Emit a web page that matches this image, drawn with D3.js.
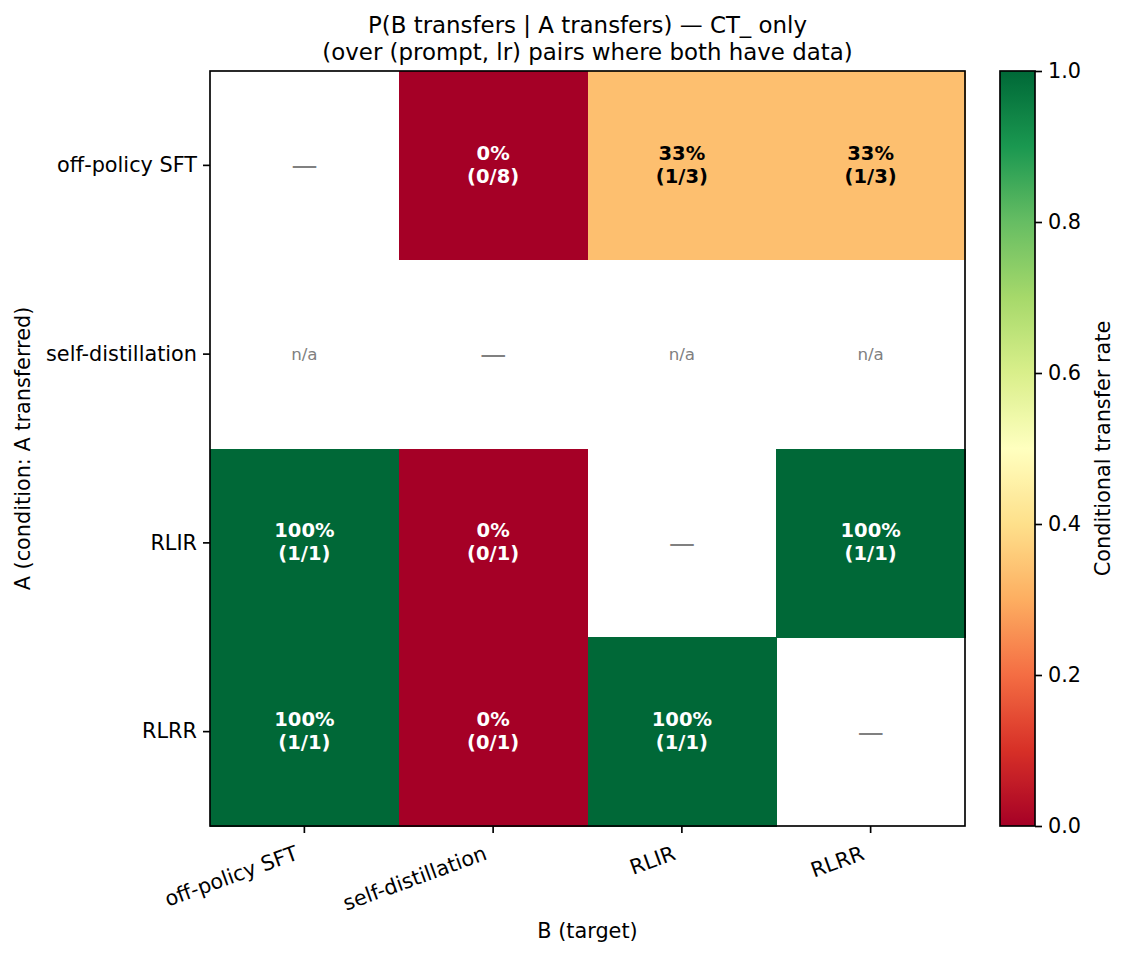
<!DOCTYPE html>
<html>
<head>
<meta charset="utf-8">
<script src="https://cdn.jsdelivr.net/npm/d3@7"></script>
<style>
  body { margin: 0; background: #fff; }
  svg text { font-family: "DejaVu Sans", sans-serif; }
</style>
</head>
<body>
<script>
// conditions (rows = A, columns = B)
var conditions = ["off-policy SFT", "self-distillation", "RLIR", "RLRR"];
// number of (prompt, lr) pairs where B transferred given A transferred
var hits = [
  [null, 0, 1, 1],
  [0, null, 0, 0],
  [1, 0, null, 1],
  [1, 0, 1, null]
];
// number of (prompt, lr) pairs where both have data and A transferred
var totals = [
  [null, 8, 3, 3],
  [0, null, 0, 0],
  [1, 1, null, 1],
  [1, 1, 1, null]
];
var cbarTicks = [0.0, 0.2, 0.4, 0.6, 0.8, 1.0];
// matplotlib RdYlGn anchors
var rdylgn = ["#a50026","#d73027","#f46d43","#fdae61","#fee08b","#ffffbf",
              "#d9ef8b","#a6d96a","#66bd63","#1a9850","#006837"];

var W = 1129, H = 956;
var margin = {left: 210, top: 71};
var pw = 755, ph = 755;

var svg = d3.select("body").append("svg")
  .attr("width", W).attr("height", H);

var color = d3.scaleLinear()
  .domain(d3.range(rdylgn.length).map(function(i){ return i / (rdylgn.length - 1); }))
  .range(rdylgn)
  .interpolate(d3.interpolateRgb);

var x = d3.scaleBand().domain(conditions).range([margin.left, margin.left + pw]);
var y = d3.scaleBand().domain(conditions).range([margin.top, margin.top + ph]);

var cells = [];
conditions.forEach(function(a, i){
  conditions.forEach(function(b, j){
    cells.push({a: a, b: b, hit: hits[i][j], n: totals[i][j], diag: i == j});
  });
});

// heatmap cells
svg.append("g").attr("shape-rendering", "crispEdges").selectAll("rect")
  .data(cells.filter(function(d){ return !d.diag && d.n > 0; }))
  .enter().append("rect")
  .attr("x", function(d){ return x(d.b); })
  .attr("y", function(d){ return y(d.a); })
  .attr("width", x.bandwidth() + 0.5)
  .attr("height", y.bandwidth() + 0.5)
  .attr("fill", function(d){ return color(d.hit / d.n); });

// annotations
var ann = svg.append("g");
cells.forEach(function(d){
  var cx = x(d.b) + x.bandwidth() / 2;
  var cy = y(d.a) + y.bandwidth() / 2;
  if (d.diag) {
    ann.append("text").attr("x", cx).attr("y", cy)
      .attr("text-anchor", "middle").attr("dominant-baseline", "central")
      .attr("font-size", 26).attr("fill", "#808080").text("—");
  } else if (!(d.n > 0)) {
    ann.append("text").attr("x", cx).attr("y", cy)
      .attr("text-anchor", "middle").attr("dominant-baseline", "central")
      .attr("font-size", 16.7).attr("fill", "#808080").text("n/a");
  } else {
    var r = d.hit / d.n;
    var fc = (r < 0.3 || r > 0.7) ? "#fff" : "#000";
    var t = ann.append("text").attr("x", cx).attr("y", cy)
      .attr("text-anchor", "middle")
      .attr("font-size", 19.5).attr("font-weight", "bold").attr("fill", fc);
    t.append("tspan").attr("x", cx).attr("dy", "-0.3em").text(Math.round(r * 100) + "%");
    t.append("tspan").attr("x", cx).attr("dy", "1.18em").text("(" + d.hit + "/" + d.n + ")");
  }
});

// axes
var xAxis = svg.append("g")
  .attr("transform", "translate(0," + (margin.top + ph) + ")")
  .call(d3.axisBottom(x).tickSize(7).tickPadding(6));
xAxis.selectAll(".tick text")
  .attr("font-size", 20.8).attr("fill", "#000")
  .attr("text-anchor", "end")
  .attr("x", 0).attr("y", 0).attr("dy", 0)
  .attr("transform", "translate(-5,33) rotate(-20)");

var yAxis = svg.append("g")
  .attr("transform", "translate(" + margin.left + ",0)")
  .call(d3.axisLeft(y).tickSize(7).tickPadding(6));
yAxis.selectAll("text").attr("font-size", 20.8).attr("fill", "#000");

[xAxis, yAxis].forEach(function(g){
  g.select(".domain").remove();
  g.selectAll(".tick line").attr("stroke", "#000").attr("stroke-width", 1.67);
  g.attr("font-family", null);
});

svg.append("rect")
  .attr("x", margin.left).attr("y", margin.top)
  .attr("width", pw).attr("height", ph)
  .attr("fill", "none").attr("stroke", "#000").attr("stroke-width", 1.67);

// titles
svg.append("text").attr("x", margin.left + pw / 2).attr("y", 33)
  .attr("text-anchor", "middle").attr("font-size", 22.9)
  .text("P(B transfers | A transfers) — CT_ only");
svg.append("text").attr("x", margin.left + pw / 2).attr("y", 60)
  .attr("text-anchor", "middle").attr("font-size", 22.9)
  .text("(over (prompt, lr) pairs where both have data)");

svg.append("text").attr("x", margin.left + pw / 2).attr("y", 938)
  .attr("text-anchor", "middle").attr("font-size", 20.8)
  .text("B (target)");
svg.append("text")
  .attr("transform", "translate(30," + (margin.top + ph / 2) + ") rotate(-90)")
  .attr("text-anchor", "middle").attr("font-size", 20.8)
  .text("A (condition: A transferred)");

// colorbar
var cbX = 1000, cbW = 35;
var cScale = d3.scaleLinear().domain([0, 1]).range([margin.top + ph, margin.top]);
var grad = svg.append("defs").append("linearGradient")
  .attr("id", "cbgrad").attr("x1", 0).attr("y1", 1).attr("x2", 0).attr("y2", 0);
grad.selectAll("stop").data(d3.range(0, 1.0001, 0.02))
  .enter().append("stop")
  .attr("offset", function(d){ return d; })
  .attr("stop-color", function(d){ return color(d); });
svg.append("rect")
  .attr("x", cbX).attr("y", margin.top).attr("width", cbW).attr("height", ph)
  .attr("fill", "url(#cbgrad)").attr("stroke", "#000").attr("stroke-width", 1.67);

var cAxis = svg.append("g")
  .attr("transform", "translate(" + (cbX + cbW) + ",0)")
  .call(d3.axisRight(cScale).tickValues(cbarTicks).tickFormat(d3.format(".1f")).tickSize(7).tickPadding(6));
cAxis.select(".domain").remove();
cAxis.selectAll(".tick line").attr("stroke", "#000").attr("stroke-width", 1.67);
cAxis.selectAll("text").attr("font-size", 20.8).attr("fill", "#000");
cAxis.attr("font-family", null);

svg.append("text")
  .attr("transform", "translate(1110," + (margin.top + ph / 2) + ") rotate(-90)")
  .attr("text-anchor", "middle").attr("font-size", 20.8)
  .text("Conditional transfer rate");
</script>
</body>
</html>
